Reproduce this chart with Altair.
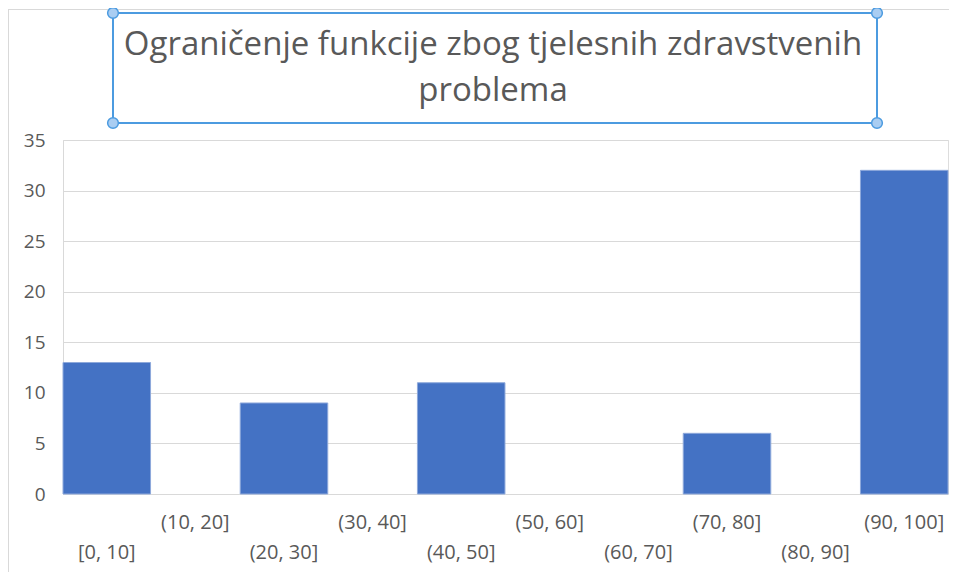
import altair as alt
import pandas as pd

# ---- data ----
bins = ["[0, 10]", "(10, 20]", "(20, 30]", "(30, 40]", "(40, 50]",
        "(50, 60]", "(60, 70]", "(70, 80]", "(80, 90]", "(90, 100]"]
counts = [13, 0, 9, 0, 11, 0, 0, 6, 0, 32]
y_ticks = [0, 5, 10, 15, 20, 25, 30, 35]
title_lines = ["Ograničenje funkcije zbog tjelesnih zdravstvenih", "problema"]

W, H = 885, 354
FONT = "Open Sans"
TXT = "#595959"
GRID = "#D9D9D9"
BAR = "#4472C4"
SEL = "#4C9BE0"

df = pd.DataFrame({"bin": bins, "count": counts, "idx": list(range(len(bins)))})
df["row"] = df["idx"] % 2

xscale = alt.Scale(domain=bins, paddingInner=0.012, paddingOuter=0.0)
xenc = alt.X("bin:N", scale=xscale, sort=bins,
             axis=alt.Axis(labels=False, ticks=False, title=None,
                           domain=True, domainColor=GRID, domainWidth=1))

bars = alt.Chart(df).transform_filter("datum.count > 0").mark_bar(
    color=BAR, stroke="#8EA9DB", strokeWidth=1
).encode(
    x=xenc,
    y=alt.Y("count:Q", scale=alt.Scale(domain=[0, 35], nice=False),
            axis=alt.Axis(values=y_ticks, title=None, ticks=False,
                          domain=True, domainColor=GRID, grid=True,
                          gridColor=GRID, labelPadding=18, labelFontSize=19,
                          labelColor=TXT, labelFont=FONT)),
)

XFS = 20
lab_hi = alt.Chart(df).transform_filter("datum.row == 1").mark_text(
    font=FONT, fontSize=XFS, color=TXT, baseline="middle", align="center"
).encode(x=alt.X("bin:N", scale=xscale, sort=bins), y=alt.value(H + 29), text="bin:N")

lab_lo = alt.Chart(df).transform_filter("datum.row == 0").mark_text(
    font=FONT, fontSize=XFS, color=TXT, baseline="middle", align="center"
).encode(x=alt.X("bin:N", scale=xscale, sort=bins), y=alt.value(H + 59), text="bin:N")

one = pd.DataFrame({"k": [0]})

# outer chart border (left and top)
border_left = alt.Chart(one).mark_rule(color=GRID, strokeWidth=1).encode(
    x=alt.value(-54.5), y=alt.value(-131), y2=alt.value(H + 90))
border_top = alt.Chart(one).mark_rule(color=GRID, strokeWidth=1).encode(
    x=alt.value(-55), x2=alt.value(W + 20), y=alt.value(-130.5))

# selected title box
bx0, bx1, by0, by1 = 50, 814, -127, -17
box = alt.Chart(one).mark_rect(fill="transparent", stroke=SEL, strokeWidth=2).encode(
    x=alt.value(bx0), x2=alt.value(bx1), y=alt.value(by0), y2=alt.value(by1))

handles = []
for hx, hy in [(bx0, by0), (bx1, by0), (bx0, by1), (bx1, by1)]:
    handles.append(alt.Chart(one).mark_point(
        shape="circle", size=115, filled=True, fill="#A9CDF2",
        stroke=SEL, strokeWidth=1.5, opacity=1
    ).encode(x=alt.value(hx), y=alt.value(hy)))

TFS = 33
t1 = alt.Chart(one).mark_text(font=FONT, fontSize=TFS, color=TXT,
                              align="center", baseline="middle").encode(
    x=alt.value(430), y=alt.value(-95), text=alt.value(title_lines[0]))
t2 = alt.Chart(one).mark_text(font=FONT, fontSize=TFS, color=TXT,
                              align="center", baseline="middle").encode(
    x=alt.value(430), y=alt.value(-49), text=alt.value(title_lines[1]))

chart = alt.layer(bars, lab_hi, lab_lo, border_left, border_top, box, *handles, t1, t2).properties(
    width=W, height=H,
    padding={"left": 55, "top": 132, "right": 1, "bottom": 78},
    autosize=alt.AutoSizeParams(type="none"),
).configure_view(stroke=None).configure(background="white")

chart.save("out.html", embed_options={"renderer": "svg", "actions": False})
